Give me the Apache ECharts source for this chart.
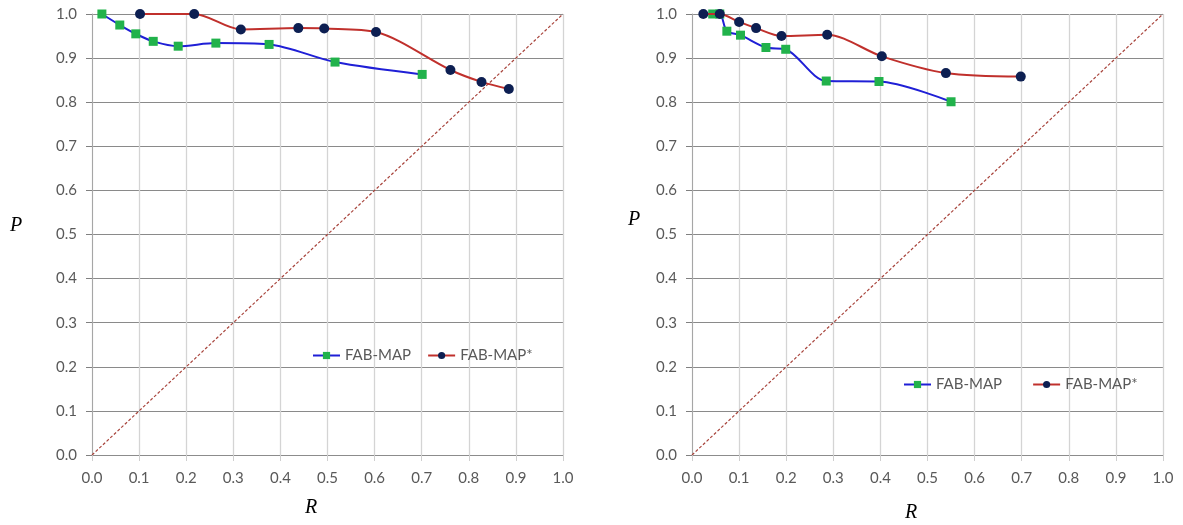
<!DOCTYPE html>
<html>
<head>
<meta charset="utf-8">
<script src="https://cdn.jsdelivr.net/npm/echarts@6/dist/echarts.min.js"></script>
<style>html,body{margin:0;padding:0;background:#fff}#c{width:1183px;height:525px}</style>
</head>
<body>
<div id="c"></div>
<script>
// Left chart
var leftFabR = [0.021, 0.059, 0.093, 0.130, 0.183, 0.263, 0.376, 0.516, 0.701];
var leftFabP = [1.000, 0.975, 0.955, 0.938, 0.927, 0.934, 0.931, 0.891, 0.863];
var leftStarR = [0.102, 0.217, 0.316, 0.438, 0.493, 0.603, 0.761, 0.827, 0.885];
var leftStarP = [1.000, 1.000, 0.965, 0.968, 0.967, 0.959, 0.873, 0.846, 0.830];
// Right chart
var rightFabR = [0.044, 0.059, 0.074, 0.103, 0.157, 0.199, 0.285, 0.397, 0.550];
var rightFabP = [1.000, 1.000, 0.961, 0.952, 0.924, 0.920, 0.848, 0.847, 0.801];
var rightStarR = [0.024, 0.059, 0.100, 0.136, 0.190, 0.287, 0.403, 0.539, 0.698];
var rightStarP = [1.000, 1.000, 0.982, 0.968, 0.950, 0.953, 0.904, 0.866, 0.858];
// Diagonal reference P = R
var diagR = [0, 1];
var diagP = [0, 1];
var names = ['FAB-MAP', 'FAB-MAP*'];

function pairs(r, p) { return r.map(function (v, i) { return [v, p[i]]; }); }

var font = 'Lato';
var labelColor = '#595959';

function xAx(gi) {
  return {
    type: 'value', gridIndex: gi, min: 0, max: 1, interval: 0.1,
    axisLine: { onZero: false, lineStyle: { color: '#8c8c8c', width: 1 } },
    axisTick: { show: true, length: 6, lineStyle: { color: '#cfcfcf' } },
    axisLabel: { margin: 16, color: labelColor, fontFamily: font, fontSize: 15,
      formatter: function (v) { return v.toFixed(1); } },
    splitLine: { show: true, lineStyle: { color: '#d4d4d4', width: 1.3 } }
  };
}
function yAx(gi) {
  return {
    type: 'value', gridIndex: gi, min: 0, max: 1, interval: 0.1,
    axisLine: { show: true, onZero: false, lineStyle: { color: '#a6a6a6', width: 1 } },
    axisTick: { show: true, length: 6, lineStyle: { color: '#808080' } },
    axisLabel: { margin: 15, color: labelColor, fontFamily: font, fontSize: 15,
      formatter: function (v) { return v.toFixed(1); } },
    splitLine: { show: true, lineStyle: { color: '#8a8a8a', width: 1 } }
  };
}
function fabSeries(gi, r, p) {
  return {
    name: names[0], type: 'line', xAxisIndex: gi, yAxisIndex: gi,
    data: pairs(r, p), smooth: 0.3, symbol: 'rect', symbolSize: 9,
    itemStyle: { color: '#21b24b' }, lineStyle: { color: '#1f1fd6', width: 2 },
    z: 3
  };
}
function starSeries(gi, r, p) {
  return {
    name: names[1], type: 'line', xAxisIndex: gi, yAxisIndex: gi,
    data: pairs(r, p), smooth: 0.3, symbol: 'circle', symbolSize: 10,
    itemStyle: { color: '#0d1f52' }, lineStyle: { color: '#c0302c', width: 2 },
    z: 4
  };
}
function diagSeries(gi) {
  return {
    name: 'diag', type: 'line', xAxisIndex: gi, yAxisIndex: gi,
    data: pairs(diagR, diagP), symbol: 'none', silent: true,
    lineStyle: { color: '#a8443c', width: 1.2, type: [3, 2] }, z: 2
  };
}

var chart = echarts.init(document.getElementById('c'), null, { renderer: 'canvas' });
chart.setOption({
  animation: false,
  grid: [
    { left: 92, top: 14, width: 471, height: 441 },
    { left: 692, top: 14, width: 471, height: 441 }
  ],
  xAxis: [xAx(0), xAx(1)],
  yAxis: [yAx(0), yAx(1)],
  legend: [
    { data: names, left: 307, top: 343, itemWidth: 27, itemHeight: 9, itemGap: 16,
      textStyle: { color: labelColor, fontFamily: font, fontSize: 15 } },
    { data: names, left: 898, top: 372, itemWidth: 27, itemHeight: 9, itemGap: 30,
      textStyle: { color: labelColor, fontFamily: font, fontSize: 15 } }
  ],
  graphic: [
    { type: 'text', left: 10, top: 216, style: { text: 'P', font: 'italic 20px "Liberation Serif"', fill: '#000' } },
    { type: 'text', left: 305, top: 498, style: { text: 'R', font: 'italic 20px "Liberation Serif"', fill: '#000' } },
    { type: 'text', left: 628, top: 210, style: { text: 'P', font: 'italic 20px "Liberation Serif"', fill: '#000' } },
    { type: 'text', left: 905, top: 503, style: { text: 'R', font: 'italic 20px "Liberation Serif"', fill: '#000' } }
  ],
  series: [
    diagSeries(0), fabSeries(0, leftFabR, leftFabP), starSeries(0, leftStarR, leftStarP),
    diagSeries(1), fabSeries(1, rightFabR, rightFabP), starSeries(1, rightStarR, rightStarP)
  ]
});
</script>
</body>
</html>
